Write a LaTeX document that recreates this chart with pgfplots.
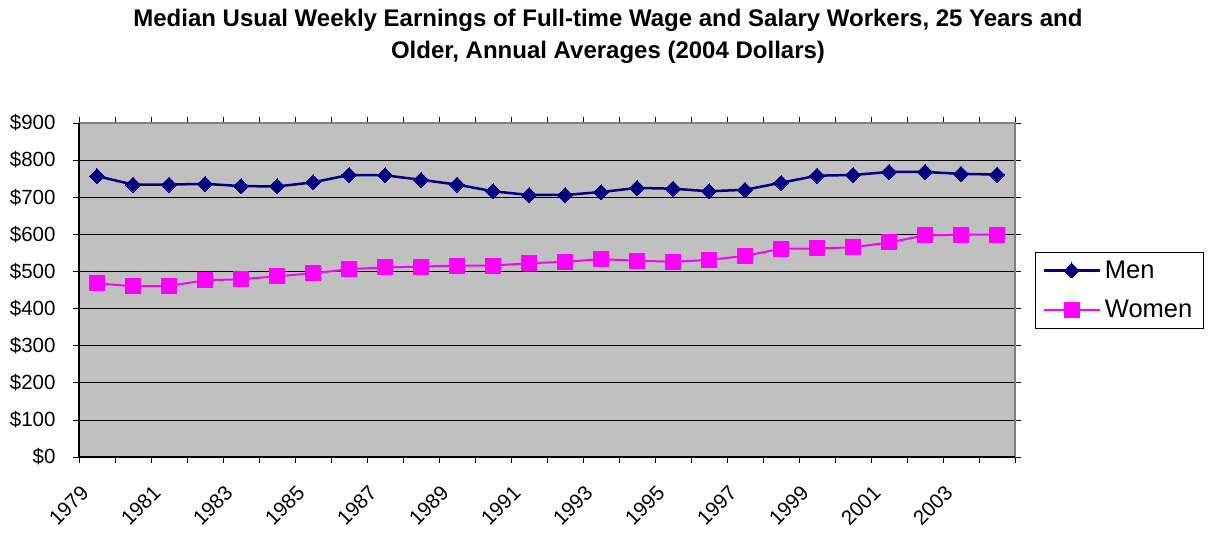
\documentclass[border=0pt]{standalone}
\usepackage{fontspec}
\setmainfont{Liberation Sans}
\usepackage{pgfplots}
\usepackage{pgfplotstable}
\pgfplotsset{compat=1.18}
\definecolor{plotbg}{RGB}{192,192,192}
\definecolor{menblue}{RGB}{0,0,128}
\definecolor{womenpink}{RGB}{255,0,255}
\definecolor{framegray}{RGB}{128,128,128}

\pgfplotstableread{
idx year men women
0  1979 757 468
1  1980 734 460
2  1981 734 461
3  1982 736 476
4  1983 730 479
5  1984 729 487
6  1985 740 495
7  1986 760 506
8  1987 759 511
9  1988 747 513
10 1989 734 516
11 1990 716 516
12 1991 706 522
13 1992 706 526
14 1993 714 533
15 1994 725 529
16 1995 723 526
17 1996 716 531
18 1997 720 542
19 1998 739 561
20 1999 758 562
21 2000 760 565
22 2001 768 578
23 2002 768 597
24 2003 763 599
25 2004 761 599
}\earnings

\begin{document}
\begin{tikzpicture}[x=1pt,y=1pt]
\useasboundingbox (0,0) rectangle (1211,536);
\node[align=center, font=\fontsize{24}{32}\selectfont\bfseries] at (608,500)
  {Median Usual Weekly Earnings of Full-time Wage and Salary Workers, 25 Years and\\Older, Annual Averages (2004 Dollars)};
\begin{axis}[
  at={(79pt,79pt)}, anchor=south west,
  scale only axis, width=936pt, height=334pt,
  xmin=-0.5, xmax=25.5, ymin=0, ymax=900,
  xtick={-0.5,0.5,...,25.5}, xticklabels={},
  extra x ticks={0,2,...,24},
  extra x tick labels={1979,1981,1983,1985,1987,1989,1991,1993,1995,1997,1999,2001,2003},
  extra x tick style={major tick length=0pt, grid=none,
     xticklabel style={xshift=-12pt, yshift=-32pt, rotate=45, anchor=east, inner sep=0pt}},
  ytick={0,100,...,900},
  yticklabels={\$0,\$100,\$200,\$300,\$400,\$500,\$600,\$700,\$800,\$900},
  yticklabel style={xshift=-14pt},
  ymajorgrids, major grid style={black, line width=0.6pt},
  tick align=outside, major tick length=6pt,
  tick style={black, line width=0.6pt},
  ticklabel style={font=\fontsize{20.5}{24}\selectfont},
  axis background/.style={fill=plotbg},
  axis line style={framegray, line width=1.2pt},
  clip=false,
  legend style={at={(1.0214,0.5)}, anchor=west, draw=black, line width=0.8pt,
     font=\fontsize{25.5}{30}\selectfont, inner xsep=7pt, inner ysep=5pt, row sep=12pt,
     nodes={inner xsep=4pt, inner ysep=4pt},
     cells={anchor=west}},
  legend image code/.code={\draw[#1, mark repeat=2, mark phase=2] plot coordinates {(0pt,0pt) (28pt,0pt) (56pt,0pt)};},
]
\addplot[menblue, line width=2.5pt, mark=square*, mark size=5.3pt,
  mark options={rotate=45, fill=menblue, draw=menblue, line width=0pt}] table[x=idx, y=men] {\earnings};
\addlegendentry{Men}
\addplot[womenpink, line width=2pt, mark=square*, mark size=7.5pt,
  mark options={fill=womenpink, draw=womenpink, line width=0pt}] table[x=idx, y=women] {\earnings};
\addlegendentry{Women}
\draw[black, line width=1.2pt] (rel axis cs:0,1) -- (rel axis cs:0,0) -- (rel axis cs:1,0);
\end{axis}
\end{tikzpicture}
\end{document}
